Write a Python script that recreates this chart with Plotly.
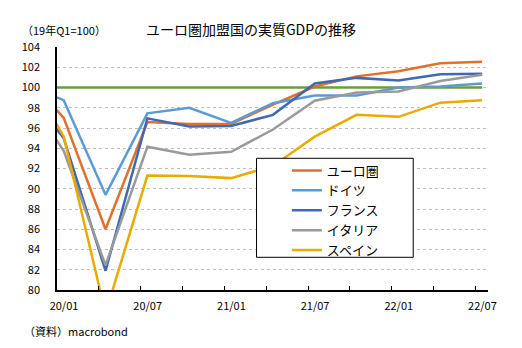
import plotly.graph_objects as go

# Quarterly index positions: -1 = 19/10 (Q4 2019), 0 = 20/01 ... 10 = 22/07
quarters = ["19/10", "20/01", "20/04", "20/07", "20/10", "21/01", "21/04",
            "21/07", "21/10", "22/01", "22/04", "22/07"]
qpos = list(range(-1, len(quarters) - 1))

euro    = [101.6, 97.0, 86.0, 96.6, 96.4, 96.4, 98.3, 100.1, 101.1, 101.6, 102.4, 102.55]
germany = [100.4, 98.75, 89.4, 97.45, 98.0, 96.5, 98.45, 99.2, 99.2, 100.0, 100.1, 100.4]
france  = [100.2, 95.0, 81.9, 96.95, 96.15, 96.2, 97.3, 100.4, 100.95, 100.7, 101.3, 101.35]
italy   = [99.95, 93.75, 82.45, 94.15, 93.35, 93.65, 95.85, 98.7, 99.5, 99.6, 100.65, 101.25]
spain   = [102.5, 95.15, 77.7, 91.3, 91.25, 91.05, 92.25, 95.15, 97.3, 97.1, 98.5, 98.75]
base    = [100] * len(quarters)

series_names = ["ユーロ圏", "ドイツ", "フランス", "イタリア", "スペイン"]
series_vals = [euro, germany, france, italy, spain]
colors = ["#E0702D", "#5B9BD5", "#3F68B5", "#9A9A9A", "#EAAA00"]

x_labels = ["20/01", "", "20/07", "", "21/01", "", "21/07", "", "22/01", "", "22/07"]
y_ticks = list(range(80, 105, 2))

FONT = "Noto Sans CJK JP, Liberation Sans, sans-serif"

fig = go.Figure()
fig.add_trace(go.Scatter(x=qpos, y=base, mode="lines", showlegend=False,
                         line=dict(color="#6B9E3A", width=2.5), hoverinfo="skip"))
for name, vals, c in zip(series_names, series_vals, colors):
    fig.add_trace(go.Scatter(x=qpos, y=vals, mode="lines", name=name,
                             legendgroup=name,
                             line=dict(color=c, width=2.5)))

tick_offset = -0.16
fig.update_layout(
    width=522, height=348,
    margin=dict(l=57.3, r=34, t=47, b=58),
    paper_bgcolor="white", plot_bgcolor="white",
    font=dict(family=FONT, size=11, color="#000"),
    title=dict(text="ユーロ圏加盟国の実質GDPの推移", x=251/522, xanchor="center",
               y=1 - 30/348, yanchor="middle",
               font=dict(size=14, family=FONT, color="#000")),
    xaxis=dict(range=[tick_offset, 10.14], showgrid=False, zeroline=False,
               tickvals=[tick_offset + k for k in range(len(x_labels))],
               ticktext=x_labels, ticks="inside", ticklen=4, tickcolor="#000",
               ticklabelshift=7, ticklabelstandoff=5,
               showline=True, linecolor="#000", linewidth=1.5,
               tickfont=dict(size=11, family=FONT, color="#000")),
    yaxis=dict(range=[80, 104], tickvals=y_ticks, showgrid=True,
               gridcolor="#BDBDBD", griddash="dot", gridwidth=1,
               zeroline=False, showline=True, linecolor="#000", linewidth=1.5,
               ticks="", ticklabelstandoff=13,
               tickfont=dict(size=11, family=FONT, color="#000")),
    legend=dict(x=(287 - 57.3) / 430.7, xanchor="left",
                y=(290 - 155.5) / 243, yanchor="top",
                bgcolor="rgba(0,0,0,0)", borderwidth=0,
                font=dict(size=13, family=FONT, color="#000"),
                traceorder="grouped", tracegroupgap=0, itemwidth=30),
    shapes=[dict(type="rect", xref="paper", yref="paper",
                 x0=(256.7 - 57.3) / 430.7, x1=(413.3 - 57.3) / 430.7,
                 y0=(290 - 257.3) / 243, y1=(290 - 158.3) / 243,
                 line=dict(color="#000", width=1), fillcolor="white",
                 layer="above")],
    annotations=[
        dict(text="（19年Q1=100）", xref="paper", yref="paper",
             x=(20 - 57.3) / 430.7, xanchor="left", y=(290 - 30) / 243, yanchor="middle",
             showarrow=False, font=dict(size=11, family=FONT, color="#000")),
        dict(text="（資料）macrobond", xref="paper", yref="paper",
             x=(22 - 57.3) / 430.7, xanchor="left", y=(290 - 330.5) / 243, yanchor="middle",
             showarrow=False, font=dict(size=11, family=FONT, color="#000")),
    ],
)

fig.write_html("out.html")
